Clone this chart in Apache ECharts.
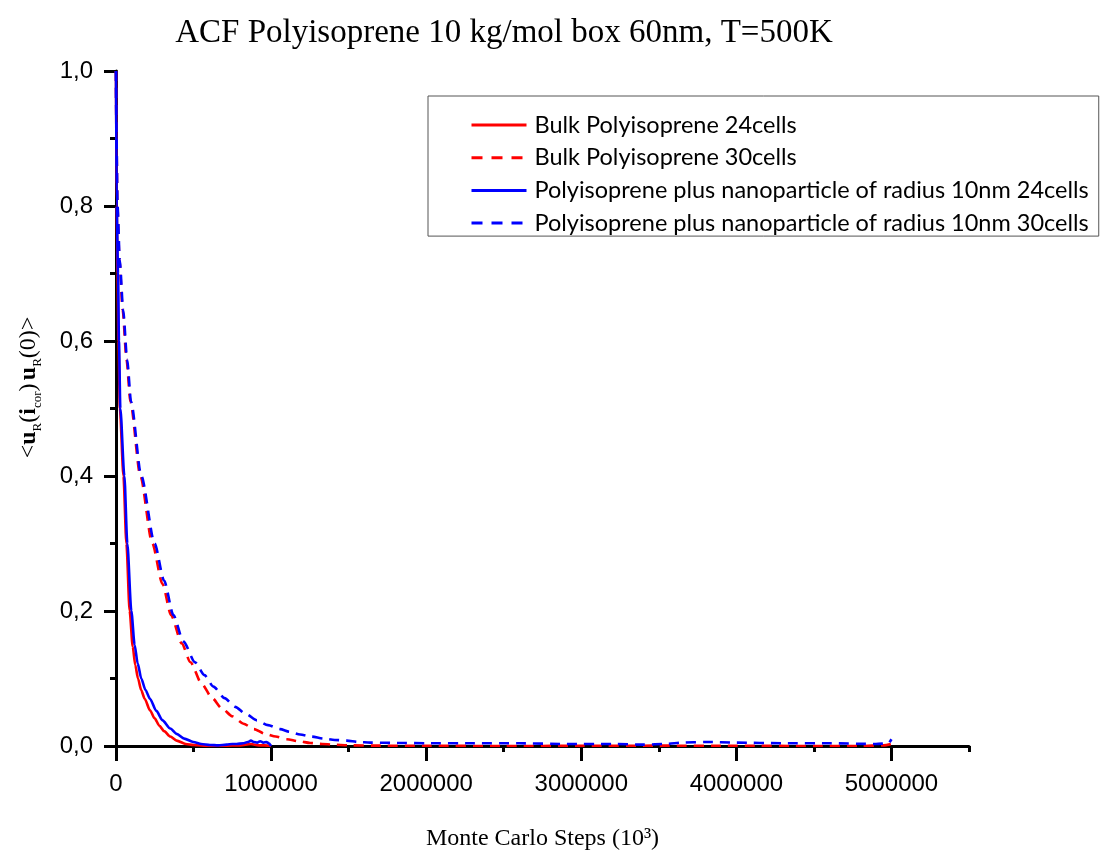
<!DOCTYPE html>
<html>
<head>
<meta charset="utf-8">
<title>ACF Polyisoprene</title>
<script src="https://cdn.jsdelivr.net/npm/echarts@6/dist/echarts.min.js"></script>
<style>
  html, body { margin: 0; padding: 0; background: #fff; }
  #chart { width: 1103px; height: 852px; }
</style>
</head>
<body>
<div id="chart"></div>
<script>
// Autocorrelation function of the end-to-end unit vector vs Monte Carlo steps

const seriesNames = [
  'Bulk Polyisoprene 24cells',
  'Bulk Polyisoprene 30cells',
  'Polyisoprene plus nanoparticle of radius 10nm 24cells',
  'Polyisoprene plus nanoparticle of radius 10nm 30cells'
];

// Bulk, 24 cells
const bulk24X = [0, 4000, 10000, 16000, 25000, 48000, 67000, 88000, 108000, 124000, 142000, 162000, 185000, 219000, 249000, 280000, 310000, 350000, 391000, 450000, 500000, 600000, 700000, 800000, 870000, 920000, 960000, 1000000];
const bulk24Y = [1.0, 0.8, 0.7, 0.6, 0.5, 0.4, 0.3, 0.2, 0.147, 0.12, 0.1, 0.083, 0.07, 0.053, 0.041, 0.03, 0.022, 0.014, 0.008, 0.003, 0.0015, 0.0, 0.0005, 0.001, 0.003, 0.001, 0.001, 0.0];

// Bulk, 30 cells
const bulk30X = [0, 3000, 9000, 22000, 43000, 68000, 93000, 157000, 234000, 300000, 355000, 424000, 480000, 553000, 620000, 682000, 750000, 822000, 890000, 961000, 1030000, 1101000, 1180000, 1252000, 1330000, 1400000, 1500000, 1700000, 2000000, 2500000, 3000000, 3500000, 4000000, 4500000, 4800000, 4950000, 5000000];
const bulk30Y = [1.0, 0.9, 0.8, 0.72, 0.646, 0.572, 0.51, 0.4, 0.3, 0.24, 0.194, 0.152, 0.124, 0.092, 0.071, 0.056, 0.044, 0.033, 0.025, 0.018, 0.014, 0.01, 0.007, 0.0045, 0.003, 0.002, 0.001, 0.0005, 0.0003, 0.0, 0.0002, 0.0005, 0.0003, 0.0, 0.0, 0.001, 0.003];

// Polyisoprene + nanoparticle, 24 cells
const np24X = [0, 4500, 13000, 19000, 28000, 54000, 73000, 99000, 120000, 140000, 163000, 190000, 219000, 260000, 300000, 350000, 391000, 440000, 499000, 550000, 606000, 660000, 714000, 750000, 778000, 820000, 850000, 870000, 890000, 910000, 930000, 950000, 970000, 985000, 1000000];
const np24Y = [1.0, 0.8, 0.7, 0.6, 0.5, 0.4, 0.3, 0.2, 0.15, 0.122, 0.1, 0.083, 0.07, 0.052, 0.038, 0.026, 0.018, 0.011, 0.006, 0.003, 0.0015, 0.001, 0.002, 0.003, 0.003, 0.004, 0.006, 0.008, 0.006, 0.005, 0.007, 0.005, 0.006, 0.004, 0.0];

// Polyisoprene + nanoparticle, 30 cells
const np30X = [0, 3000, 10000, 24000, 46000, 72000, 97000, 163000, 249000, 310000, 370000, 434000, 510000, 570000, 628000, 700000, 768000, 840000, 908000, 980000, 1058000, 1120000, 1187000, 1260000, 1337000, 1410000, 1488000, 1560000, 1639000, 1811000, 2000000, 2300000, 2600000, 2900000, 3200000, 3400000, 3550000, 3650000, 3800000, 4000000, 4300000, 4600000, 4900000, 4980000, 5000000];
const np30Y = [1.0, 0.9, 0.8, 0.72, 0.646, 0.572, 0.51, 0.4, 0.3, 0.245, 0.194, 0.155, 0.124, 0.105, 0.088, 0.071, 0.058, 0.047, 0.038, 0.031, 0.025, 0.021, 0.017, 0.014, 0.011, 0.009, 0.008, 0.006, 0.005, 0.0045, 0.004, 0.004, 0.004, 0.003, 0.003, 0.002, 0.003, 0.005, 0.006, 0.005, 0.004, 0.004, 0.003, 0.004, 0.01];

// Axis ticks
const xMajorTicks = [0, 1000000, 2000000, 3000000, 4000000, 5000000];
const xMax = 5500000;
const yTicks = [0, 0.2, 0.4, 0.6, 0.8, 1.0];

function zip(xs, ys) { return xs.map((x, i) => [x, ys[i]]); }

const RED = '#ff0000';
const BLUE = '#0000ff';
const DASH = [10, 7];
const serif = '"Liberation Serif", "DejaVu Serif", serif';
const sans = '"Liberation Sans", Arial, sans-serif';
const legendFont = 'Lato, "Liberation Sans", sans-serif';

function lineSeries(name, data, color, dashed) {
  return {
    name: name,
    type: 'line',
    data: data,
    showSymbol: false,
    symbol: 'none',
    smooth: 0.25,
    smoothMonotone: 'x',
    color: color,
    lineStyle: { color: color, width: 2.6, type: dashed ? DASH : 'solid' },
    emphasis: { disabled: true },
    z: 3
  };
}

function legendItem(name, dashed) {
  return { name: name, lineStyle: { width: 3, type: dashed ? [11, 9] : 'solid' } };
}

const chart = echarts.init(document.getElementById('chart'), null, { renderer: 'canvas' });

chart.setOption({
  animation: false,
  backgroundColor: '#ffffff',
  title: {
    text: 'ACF Polyisoprene 10 kg/mol box 60nm, T=500K',
    left: 499,
    textAlign: 'center',
    top: 12,
    textStyle: { fontFamily: serif, fontSize: 33, fontWeight: 'normal', color: '#000' }
  },
  legend: {
    orient: 'vertical',
    left: 428,
    top: 96,
    padding: [17, 10, 1, 42],
    itemWidth: 55,
    itemHeight: 14,
    itemGap: 8.7,
    borderColor: '#555',
    borderWidth: 1,
    borderRadius: 0,
    itemStyle: { color: 'transparent', borderWidth: 0, opacity: 0 },
    textStyle: { fontFamily: legendFont, fontSize: 23.5, lineHeight: 24, color: '#000', padding: [0, 0, 0, 3] },
    data: [
      legendItem(seriesNames[0], false),
      legendItem(seriesNames[1], true),
      legendItem(seriesNames[2], false),
      legendItem(seriesNames[3], true)
    ]
  },
  grid: { left: 116, right: 134, top: 71, bottom: 106, containLabel: false, outerBoundsMode: 'none' },
  xAxis: [
    {
      type: 'value',
      min: 0,
      max: xMax,
      interval: 500000,
      position: 'bottom',
      axisLine: { show: true, onZero: false, lineStyle: { color: '#000', width: 3 } },
      axisTick: { show: true, inside: false, length: 6, lineStyle: { color: '#000', width: 3 } },
      axisLabel: { show: false },
      splitLine: { show: false }
    },
    {
      type: 'value',
      min: 0,
      max: xMax,
      interval: 1000000,
      position: 'bottom',
      axisLine: { show: false, onZero: false },
      axisTick: { show: true, inside: false, length: 15, customValues: xMajorTicks, lineStyle: { color: '#000', width: 3 } },
      axisLabel: {
        show: true, margin: 26, color: '#000', fontFamily: sans, fontSize: 24,
        customValues: xMajorTicks,
        formatter: v => (v > 5000000 ? '' : String(v))
      },
      splitLine: { show: false },
      name: 'Monte Carlo Steps (10³)',
      nameLocation: 'middle',
      nameGap: 81,
      nameTextStyle: { fontFamily: serif, fontSize: 24, color: '#000' }
    }
  ],
  yAxis: {
    type: 'value',
    min: 0,
    max: 1.0,
    interval: 0.2,
    axisLine: { show: true, onZero: false, lineStyle: { color: '#000', width: 3 } },
    axisTick: { show: true, inside: false, length: 12, lineStyle: { color: '#000', width: 3 } },
    minorTick: { show: true, splitNumber: 2, length: 6, lineStyle: { color: '#000', width: 3 } },
    axisLabel: {
      margin: 23, color: '#000', fontFamily: sans, fontSize: 24,
      customValues: yTicks,
      formatter: v => v.toFixed(1).replace('.', ',')
    },
    splitLine: { show: false },
    minorSplitLine: { show: false },
    name: '{n|<}{b|u}{s|R}{n|(}{b|i}{s|cor}{n|)} {b|u}{s|R}{n|(0)>}',
    nameLocation: 'middle',
    nameRotate: 90,
    nameGap: 72,
    nameTextStyle: {
      color: '#000',
      padding: [0, 0, 0, 42],
      rich: {
        n: { fontFamily: serif, fontSize: 24, lineHeight: 30, verticalAlign: 'middle', color: '#000' },
        b: { fontFamily: serif, fontSize: 24, fontWeight: 'bold', lineHeight: 30, verticalAlign: 'middle', color: '#000' },
        s: { fontFamily: serif, fontSize: 13, lineHeight: 13, verticalAlign: 'bottom', color: '#000' }
      }
    }
  },
  series: [
    lineSeries(seriesNames[0], zip(bulk24X, bulk24Y), RED, false),
    lineSeries(seriesNames[1], zip(bulk30X, bulk30Y), RED, true),
    lineSeries(seriesNames[2], zip(np24X, np24Y), BLUE, false),
    lineSeries(seriesNames[3], zip(np30X, np30Y), BLUE, true)
  ]
});
</script>
</body>
</html>
